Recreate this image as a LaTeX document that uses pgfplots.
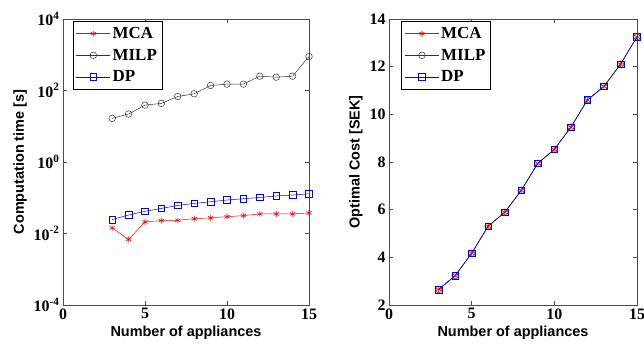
\documentclass[border=0pt]{standalone}
\usepackage{pgfplots}
\pgfplotsset{compat=1.18}
\usepackage{fontspec}
\setmainfont{Liberation Serif}
\newfontfamily\arial{Liberation Sans}
\begin{document}
\begin{tikzpicture}
\pgfplotsset{
  every axis/.append style={
    scale only axis,
    axis line style={black!70, line width=0.6pt},
    tick style={black!70, line width=0.6pt},
    tick align=inside,
    major tick length=4bp,
    tick label style={font=\fontsize{16}{16}\selectfont\bfseries},
    /pgf/number format/assume math mode=true,
    label style={font=\arial\fontsize{14.5}{14.5}\selectfont\bfseries},
    legend style={font=\fontsize{17}{17}\selectfont\bfseries, draw=black, line width=0.6pt,
      inner xsep=3bp, inner ysep=4bp, row sep=5bp, cells={anchor=west}},
    legend image code/.code={\draw[mark repeat=2,mark phase=2] plot coordinates {(0bp,0bp) (17bp,0bp) (34bp,0bp)};},
    xmin=0, xmax=15, xtick={0,5,10,15},
  },
  mca/.style={red, line width=0.5pt, mark=asterisk, mark size=3bp, mark options={line width=0.6pt}},
  milp/.style={black!80, line width=0.5pt, mark=o, mark size=3.3bp},
  dp/.style={blue, line width=0.5pt, mark=square, mark size=3.3bp},
}
\begin{axis}[
  at={(63bp,41bp)}, anchor=south west, width=246bp, height=286bp,
  ymode=log, ymin=1e-4, ymax=1e4,
  ytick={1e-4,1e-2,1,1e2,1e4},
  yticklabels={10\textsuperscript{-4},10\textsuperscript{-2},10\textsuperscript{0},10\textsuperscript{2},10\textsuperscript{4}},
  yminorticks=false,
  xlabel={Number of appliances},
  ylabel={Computation time [s]},
  legend style={at={(0.04,0.993)}, anchor=north west},
]
\addplot[mca] coordinates {(3,0.0144) (4,0.0068) (5,0.0211) (6,0.023) (7,0.0234) (8,0.026) (9,0.0274) (10,0.0295) (11,0.0316) (12,0.0353) (13,0.0353) (14,0.0353) (15,0.0376)};
\addplot[milp] coordinates {(3,16.6) (4,22) (5,39) (6,43.6) (7,68) (8,81) (9,138) (10,151) (11,151) (12,252) (13,236) (14,252) (15,890)};
\addplot[dp] coordinates {(3,0.0245) (4,0.033) (5,0.0418) (6,0.0503) (7,0.0611) (8,0.0695) (9,0.0774) (10,0.0863) (11,0.094) (12,0.102) (13,0.112) (14,0.119) (15,0.129)};
\legend{MCA,MILP,DP}
\end{axis}
\begin{axis}[
  at={(389bp,41bp)}, anchor=south west, width=248bp, height=286bp,
  ymin=2, ymax=14, ytick={2,4,6,8,10,12,14},
  xlabel={Number of appliances},
  ylabel={Optimal Cost [SEK]},
  legend style={at={(0.05,0.993)}, anchor=north west},
]
\addplot[mca] coordinates {(3,2.65) (4,3.23) (5,4.17) (6,5.31) (7,5.89) (8,6.81) (9,7.94) (10,8.53) (11,9.46) (12,10.6) (13,11.17) (14,12.1) (15,13.25)};
\addplot[milp] coordinates {(3,2.65) (4,3.23) (5,4.17) (6,5.31) (7,5.89) (8,6.81) (9,7.94) (10,8.53) (11,9.46) (12,10.6) (13,11.17) (14,12.1) (15,13.25)};
\addplot[dp] coordinates {(3,2.65) (4,3.23) (5,4.17) (6,5.31) (7,5.89) (8,6.81) (9,7.94) (10,8.53) (11,9.46) (12,10.6) (13,11.17) (14,12.1) (15,13.25)};
\legend{MCA,MILP,DP}
\end{axis}
\pgfresetboundingbox
\path (0,0) rectangle (644bp,346bp);
\end{tikzpicture}
\end{document}
